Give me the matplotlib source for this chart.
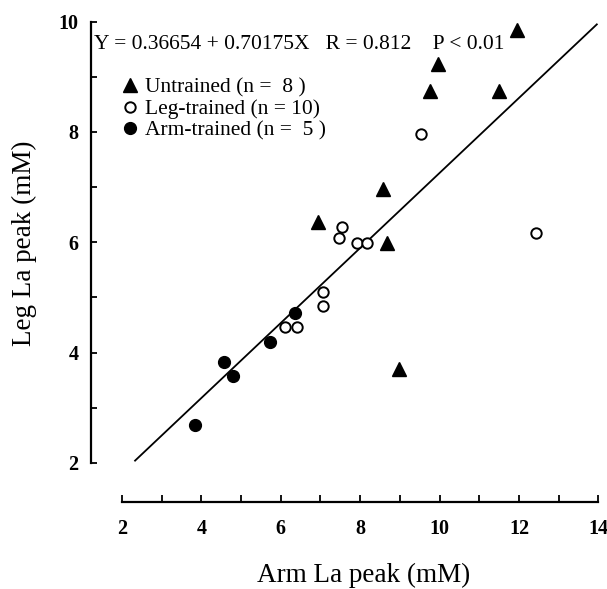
import matplotlib
matplotlib.use('Agg')
import matplotlib.pyplot as plt
from matplotlib.ticker import FuncFormatter

plt.rcParams['font.family'] = ['Liberation Serif', 'DejaVu Serif']

# Untrained (triangles)
untrained_x = [6.93, 8.58, 8.68, 8.98, 11.94, 9.95, 9.76, 11.50]
untrained_y = [6.37, 6.96, 5.98, 3.70, 9.84, 9.24, 8.74, 8.74]

# Leg-trained (open circles)
leg_x = [9.52, 12.43, 7.53, 7.47, 7.91, 8.16, 7.07, 7.06, 6.11, 6.40]
leg_y = [7.96, 6.16, 6.28, 6.08, 5.98, 5.98, 5.09, 4.85, 4.47, 4.47]

# Arm-trained (filled circles)
arm_x = [6.36, 5.73, 4.58, 4.80, 3.84]
arm_y = [4.71, 4.19, 3.82, 3.58, 2.69]

# regression line as drawn
fit_x = [2.33, 13.96]
fit_y = [2.04, 9.95]

equation = 'Y = 0.36654 + 0.70175X   R = 0.812    P < 0.01'
legend_labels = ['Untrained (n =  8 )', 'Leg-trained (n = 10)', 'Arm-trained (n =  5 )']

fig = plt.figure(figsize=(6.07, 5.89), dpi=100)
ax = fig.add_axes([91 / 607, (589 - 502) / 589, (600 - 91) / 607, (502 - 15) / 589])

ax.plot(fit_x, fit_y, color='black', lw=1.3, zorder=1)
h1, = ax.plot(untrained_x, untrained_y, '^', color='black', ms=10, ls='none', zorder=3)
h2, = ax.plot(leg_x, leg_y, 'o', mfc='white', mec='black', mew=1.4, ms=7.5, ls='none', zorder=3)
h3, = ax.plot(arm_x, arm_y, 'o', color='black', ms=8.5, ls='none', zorder=3)

ax.set_xlim(1.22, 14.04)
ax.set_ylim(1.29, 10.12)

for s in ['top', 'right']:
    ax.spines[s].set_visible(False)
ax.spines['left'].set_bounds(2, 10)
ax.spines['bottom'].set_bounds(2, 14)
ax.spines['left'].set_linewidth(1.6)
ax.spines['bottom'].set_linewidth(1.6)

ax.set_xticks(range(2, 15))
ax.set_yticks(range(2, 11))
even_only = FuncFormatter(lambda v, p: f'{int(v)}' if int(v) % 2 == 0 else '')
ax.xaxis.set_major_formatter(even_only)
ax.yaxis.set_major_formatter(even_only)
ax.tick_params(axis='x', direction='in', length=5, width=1.3, labelsize=14.5, pad=12)
ax.tick_params(axis='y', direction='in', length=4, width=1.3, labelsize=14.5, pad=9)
for lab in ax.get_xticklabels() + ax.get_yticklabels():
    lab.set_fontweight('bold')

ax.set_xlabel('Arm La peak (mM)', fontsize=19.5, va='center')
ax.set_ylabel('Leg La peak (mM)', fontsize=19.5, va='center')
ax.xaxis.set_label_coords(0.536, -0.150)
ax.yaxis.set_label_coords(-0.130, 0.532)

ax.text(0.005, 0.939, equation, transform=ax.transAxes, fontsize=15.5, va='center', ha='left')

ax.legend([h1, h2, h3], legend_labels, loc='upper left', bbox_to_anchor=(0.055, 0.871),
          frameon=False, fontsize=15.5, handletextpad=0.2, labelspacing=0.06,
          handlelength=1.0, borderaxespad=0, borderpad=0)

plt.savefig('out.png', dpi=100)
plt.close()
